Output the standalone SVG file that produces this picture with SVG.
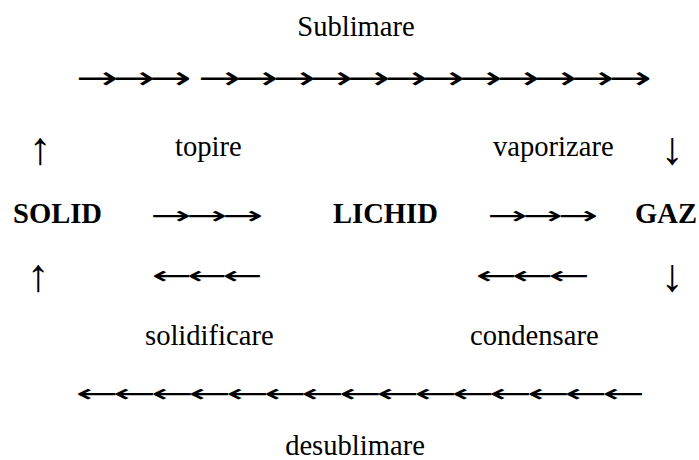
<svg xmlns="http://www.w3.org/2000/svg" width="699" height="460" viewBox="0 0 699 460">
  <style>
    .t { font-family: "Liberation Serif", "Times New Roman", serif; font-size: 28.6px; fill: #000; }
    .b { font-weight: bold; }
    .arr { font-family: "DejaVu Sans", sans-serif; font-size: 25px; letter-spacing: -2.5px; fill: #000; }
    .heavy { font-size: 32px; letter-spacing: -3.5px; }
    .v { font-family: "Liberation Serif", "Times New Roman", serif; font-size: 46px; fill: #000; text-anchor: middle; }
  </style>
  <rect width="699" height="460" fill="#fff"/>

  <!-- states of matter -->
  <g id="solid"><text class="t b" x="13" y="223">SOLID</text></g>
  <g id="lichid"><text class="t b" x="333" y="223">LICHID</text></g>
  <g id="gaz"><text class="t b" x="635" y="223">GAZ</text></g>

  <!-- transitions: arrow rows and their labels -->
  <g id="connectors">
    <text class="t" x="356" y="36" text-anchor="middle">Sublimare</text>
    <text class="arr heavy" x="76" y="89" textLength="110" lengthAdjust="spacingAndGlyphs">→→→</text>
    <text class="arr heavy" x="198" y="89" textLength="448" lengthAdjust="spacingAndGlyphs">→→→→→→→→→→→→</text>

    <text class="v" x="40" y="164">↑</text>
    <text class="t" x="175" y="156">topire</text>
    <text class="t" x="493" y="156">vaporizare</text>
    <text class="v" x="672" y="164">↓</text>

    <text class="arr" x="150" y="224" textLength="108" lengthAdjust="spacingAndGlyphs">→→→</text>
    <text class="arr" x="487" y="224" textLength="106" lengthAdjust="spacingAndGlyphs">→→→</text>

    <text class="v" x="38" y="291">↑</text>
    <text class="arr" x="152" y="284" textLength="106" lengthAdjust="spacingAndGlyphs">←←←</text>
    <text class="arr" x="476" y="284" textLength="109" lengthAdjust="spacingAndGlyphs">←←←</text>
    <text class="v" x="672" y="291">↓</text>

    <text class="t" x="145" y="345">solidificare</text>
    <text class="t" x="470" y="345">condensare</text>

    <text class="arr" x="76" y="402" textLength="564" lengthAdjust="spacingAndGlyphs">←←←←←←←←←←←←←←←</text>
    <text class="t" x="355" y="455" text-anchor="middle">desublimare</text>
  </g>
</svg>
